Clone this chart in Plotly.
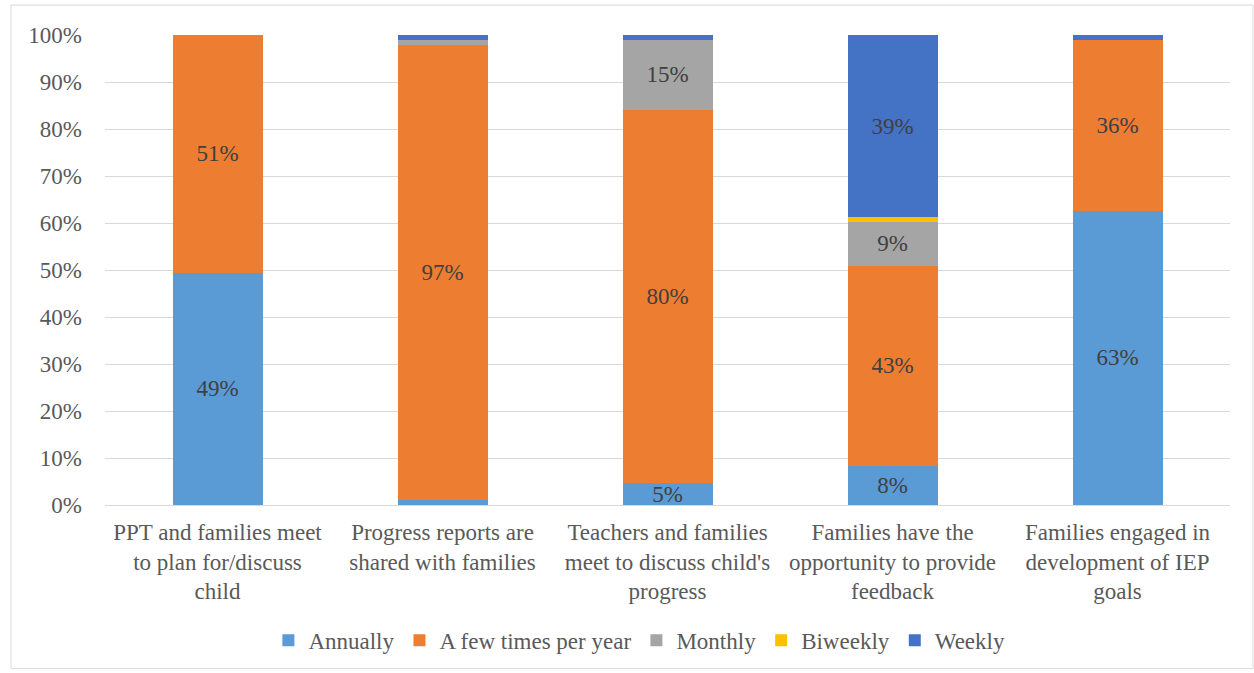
import plotly.graph_objects as go

categories = [
    "PPT and families meet<br>to plan for/discuss<br>child",
    "Progress reports are<br>shared with families",
    "Teachers and families<br>meet to discuss child's<br>progress",
    "Families have the<br>opportunity to provide<br>feedback",
    "Families engaged in<br>development of IEP<br>goals",
]

annually = [49.4, 1.0, 4.6, 8.3, 62.6]
few_times = [50.6, 96.9, 79.5, 42.6, 36.3]
monthly = [0.0, 1.1, 14.9, 9.3, 0.0]
biweekly = [0.0, 0.0, 0.0, 1.0, 0.0]
weekly = [0.0, 1.0, 1.0, 38.8, 1.1]

series = [
    ("Annually", annually, "#5B9BD5"),
    ("A few times per year", few_times, "#ED7D31"),
    ("Monthly", monthly, "#A5A5A5"),
    ("Biweekly", biweekly, "#FFC000"),
    ("Weekly", weekly, "#4472C4"),
]

font_family = "Liberation Serif, Times New Roman, serif"
FS = 23

fig = go.Figure()
for name, vals, color in series:
    # only label segments large enough to hold text
    labels = [f"{v:.0f}%" if v >= 4 else "" for v in vals]
    fig.add_trace(go.Bar(
        name=name,
        x=categories,
        y=vals,
        marker=dict(color=color, line=dict(width=0)),
        text=labels,
        textposition="inside",
        insidetextanchor="middle",
        textangle=0,
        textfont=dict(family=font_family, size=FS, color="#404040"),
        hoverinfo="name+y",
    ))

fig.update_layout(
    barmode="stack",
    bargap=0.6,
    width=1254,
    height=673,
    margin=dict(l=105, r=24, t=35, b=167),
    paper_bgcolor="white",
    plot_bgcolor="white",
    font=dict(family=font_family, size=FS, color="#595959"),
    uniformtext=dict(minsize=FS, mode="show"),
    xaxis=dict(
        showgrid=False,
        showline=True,
        linecolor="#D9D9D9",
        linewidth=1,
        ticks="",
        ticklabelstandoff=6,
        tickfont=dict(family=font_family, size=FS, color="#595959"),
    ),
    yaxis=dict(
        range=[0, 100],
        dtick=10,
        ticksuffix="%",
        showgrid=True,
        gridcolor="#D9D9D9",
        gridwidth=1,
        zeroline=False,
        ticks="",
        ticklabelstandoff=22,
        tickfont=dict(family=font_family, size=FS, color="#595959"),
    ),
    legend=dict(
        orientation="h",
        x=0.475,
        xanchor="center",
        y=-0.285,
        yanchor="middle",
        font=dict(family=font_family, size=FS, color="#595959"),
        itemwidth=30,
        traceorder="normal",
    ),
    shapes=[
        dict(
            type="rect",
            xref="paper", yref="paper",
            x0=(11 - 105) / 1125, x1=(1253 - 105) / 1125,
            y0=(506 - 670) / 471, y1=(506 - 5) / 471,
            line=dict(color="#D9D9D9", width=1),
            fillcolor="rgba(0,0,0,0)",
            layer="below",
        )
    ],
)

fig.write_html("out.html")
